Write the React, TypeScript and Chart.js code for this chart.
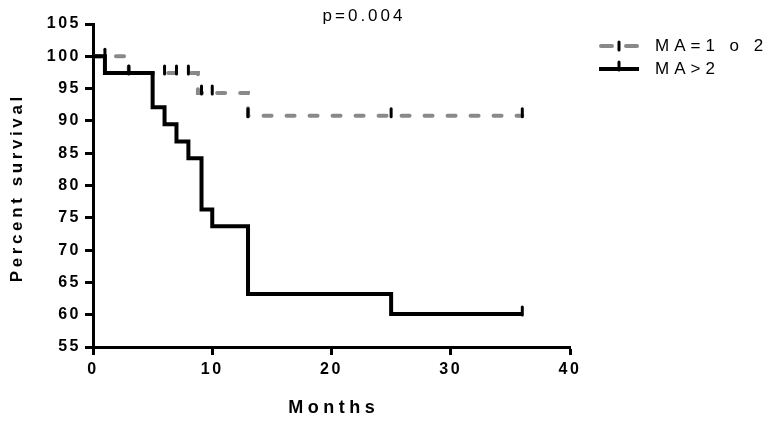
import React, { useEffect, useRef } from "react";
import { Chart, registerables } from "chart.js";

Chart.register(...registerables);

// ---- data ----
const seriesLabels = ["MA=1 o 2", "MA>2"];
const monthsLow = [0, 3, 8.8, 13, 36];
const survivalLow = [100, 97.4, 94.3, 90.8, 90.8];
const censorMonthsLow = [1, 6, 7, 8, 9.1, 10, 13, 25, 36];
const censorSurvivalLow = [100, 97.4, 97.4, 97.4, 94.3, 94.3, 90.8, 90.8, 90.8];
const monthsHigh = [0, 1, 5, 6, 7, 8, 9.1, 10, 13, 25, 36];
const survivalHigh = [100, 97.4, 92.1, 89.5, 86.8, 84.2, 76.3, 73.7, 63.2, 60.1, 60.1];
const censorMonthsHigh = [3, 36];
const censorSurvivalHigh = [97.4, 60.1];
const pValueText = "p=0.004";
const xTitle = "Months";
const yTitle = "Percent survival";
const xMin = 0;
const xMax = 40;
const xStep = 10;
const yMin = 55;
const yMax = 105;
const yStep = 5;

const FONT = "'Liberation Sans', Arial, sans-serif";
const GRAY = "#898989";

function spacedText(
  ctx: CanvasRenderingContext2D,
  text: string,
  cx: number,
  cy: number,
  font: string,
  spacing: number,
  align: "center" | "left"
) {
  ctx.save();
  ctx.font = font;
  (ctx as any).letterSpacing = spacing + "px";
  ctx.textAlign = "left";
  ctx.textBaseline = "middle";
  const w = ctx.measureText(text).width - spacing;
  const x = align === "center" ? cx - w / 2 : cx;
  ctx.fillStyle = "#000";
  ctx.fillText(text, x, cy);
  ctx.restore();
}

function drawTick(ctx: CanvasRenderingContext2D, x: number, y: number) {
  ctx.save();
  ctx.strokeStyle = "#000";
  ctx.lineWidth = 3;
  ctx.lineCap = "round";
  ctx.setLineDash([]);
  ctx.beginPath();
  ctx.moveTo(x, y + 1);
  ctx.lineTo(x, y - 7);
  ctx.stroke();
  ctx.restore();
}

const kmPlugin = {
  id: "kmExtras",
  beforeDraw(chart: any) {
    (chart.ctx as any).letterSpacing = "2.5px";
  },
  afterDatasetsDraw(chart: any) {
    const ctx = chart.ctx as CanvasRenderingContext2D;
    const xs = chart.scales.x;
    const ys = chart.scales.y;
    censorMonthsLow.forEach((m, i) => {
      drawTick(ctx, xs.getPixelForValue(m), ys.getPixelForValue(censorSurvivalLow[i]));
    });
    censorMonthsHigh.forEach((m, i) => {
      drawTick(ctx, xs.getPixelForValue(m), ys.getPixelForValue(censorSurvivalHigh[i]));
    });
  },
  afterDraw(chart: any) {
    const ctx = chart.ctx as CanvasRenderingContext2D;
    const area = chart.chartArea;
    // title (p value)
    spacedText(ctx, pValueText, (area.left + area.right) / 2 + 31, area.top - 8, `17px ${FONT}`, 3, "center");
    // x title
    spacedText(ctx, xTitle, (area.left + area.right) / 2, area.bottom + 61, `bold 18px ${FONT}`, 4.5, "center");
    // y title (rotated)
    ctx.save();
    ctx.translate(17, (area.top + area.bottom) / 2 + 4);
    ctx.rotate(-Math.PI / 2);
    spacedText(ctx, yTitle, 0, 0, `bold 17px ${FONT}`, 3.6, "center");
    ctx.restore();
    // legend
    const lx0 = area.right + 29;
    const lx1 = area.right + 69;
    const tx = area.right + 85;
    const rows = [
      { y: area.top + 22, color: GRAY, dash: [8, 13] },
      { y: area.top + 45, color: "#000", dash: [] as number[] },
    ];
    rows.forEach((r, i) => {
      ctx.save();
      ctx.strokeStyle = r.color;
      ctx.lineWidth = 4;
      ctx.lineCap = r.dash.length ? "round" : "butt";
      ctx.setLineDash([]);
      ctx.beginPath();
      if (r.dash.length) {
        ctx.moveTo(lx0 + 2, r.y);
        ctx.lineTo(lx0 + 13, r.y);
        ctx.moveTo(lx1 - 13, r.y);
        ctx.lineTo(lx1 - 2, r.y);
      } else {
        ctx.moveTo(lx0, r.y);
        ctx.lineTo(lx1, r.y);
      }
      ctx.stroke();
      ctx.restore();
      drawTick(ctx, (lx0 + lx1) / 2, r.y + (r.dash.length ? 3 : 0));
      spacedText(ctx, seriesLabels[i], tx, r.y, `17px ${FONT}`, 5, "left");
    });
  },
};

export default function App() {
  const ref = useRef<HTMLCanvasElement>(null);
  useEffect(() => {
    if (!ref.current) return;
    const chart = new Chart(ref.current, {
      type: "line",
      data: {
        datasets: [
          {
            label: seriesLabels[0],
            data: monthsLow.map((m, i) => ({ x: m, y: survivalLow[i] })),
            borderColor: GRAY,
            borderWidth: 4,
            borderDash: [8, 15],
            borderCapStyle: "round",
            stepped: true,
            pointRadius: 0,
            fill: false,
            order: 2,
          },
          {
            label: seriesLabels[1],
            data: monthsHigh.map((m, i) => ({ x: m, y: survivalHigh[i] })),
            borderColor: "#000",
            borderWidth: 4,
            stepped: true,
            pointRadius: 0,
            fill: false,
            order: 1,
          },
        ],
      },
      options: {
        animation: false,
        responsive: true,
        maintainAspectRatio: false,
        devicePixelRatio: 1,
        layout: { padding: { top: 24, right: 200, left: 0, bottom: 0 } },
        plugins: {
          legend: { display: false },
          title: { display: false },
          tooltip: { enabled: false },
        },
        scales: {
          x: {
            type: "linear",
            min: xMin,
            max: xMax,
            afterFit: (s: any) => {
              s.height = 75;
            },
            ticks: {
              stepSize: xStep,
              color: "#000",
              padding: 5,
              font: { family: FONT, size: 16, weight: "bold" },
              maxRotation: 0,
            },
            grid: {
              drawOnChartArea: false,
              drawTicks: true,
              tickLength: 8,
              tickWidth: 3,
              tickColor: "#000",
            },
            border: { display: true, color: "#000", width: 3 },
          },
          y: {
            type: "linear",
            min: yMin,
            max: yMax,
            afterFit: (s: any) => {
              s.width = 93;
            },
            ticks: {
              stepSize: yStep,
              color: "#000",
              padding: 4,
              font: { family: FONT, size: 16, weight: "bold" },
            },
            grid: {
              drawOnChartArea: false,
              drawTicks: true,
              tickLength: 8,
              tickWidth: 3,
              tickColor: "#000",
            },
            border: { display: true, color: "#000", width: 3 },
          },
        },
      } as any,
      plugins: [kmPlugin],
    });
    return () => chart.destroy();
  }, []);
  return (
    <div style={{ position: "fixed", left: 0, top: 0, width: 770, height: 422, background: "#fff" }}>
      <canvas ref={ref} />
    </div>
  );
}
